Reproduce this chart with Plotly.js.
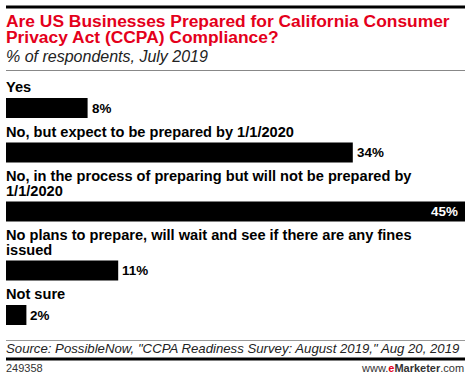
<!DOCTYPE html>
<html>
<head>
<meta charset="utf-8">
<script src="https://cdn.plot.ly/plotly-3.0.1.min.js"></script>
<style>
html,body{margin:0;padding:0;background:#fff;}
#chart{width:471px;height:381px;}
</style>
</head>
<body>
<div id="chart"></div>
<script>
// ---- data ----
var categories = [
  ["Yes"],
  ["No, but expect to be prepared by 1/1/2020"],
  ["No, in the process of preparing but will not be prepared by", "1/1/2020"],
  ["No plans to prepare, will wait and see if there are any fines", "issued"],
  ["Not sure"]
];
var values = [8, 34, 45, 11, 2];
var valueLabels = ["8%", "34%", "45%", "11%", "2%"];

var titleLines = ["Are US Businesses Prepared for California Consumer", "Privacy Act (CCPA) Compliance?"];
var subtitle = "% of respondents, July 2019";
var source = 'Source: PossibleNow, "CCPA Readiness Survey: August 2019," Aug 20, 2019';
var chartId = "249358";

// ---- layout helpers (pixel units on y) ----
var W = 471, H = 381;
var barH = 20, lineH = 14.5, firstCenter = 108, basePitch = 30;
var centers = [];
categories.forEach(function (c, i) {
  centers.push(i === 0 ? firstCenter : centers[i - 1] + basePitch + lineH * c.length);
});
var maxV = Math.max.apply(null, values);

var ann = [];
var F = "Liberation Sans, Arial, sans-serif";
function txt(text, x, y, size, color, opts) {
  var a = {text: text, xref: "paper", yref: "y", x: x, y: y, xanchor: "left", yanchor: "middle",
    showarrow: false, font: {family: F, size: size, color: color}, borderpad: 0};
  for (var k in opts) a[k] = opts[k];
  ann.push(a);
}
txt("<b>" + titleLines[0] + "</b>", 0, 20.5, 17.4, "#e4001b", {xshift: -1});
txt("<b>" + titleLines[1] + "</b>", 0, 36.5, 17.4, "#e4001b", {xshift: -1});
txt("<i>" + subtitle + "</i>", 0, 56.8, 16, "#222", {xshift: -1});

categories.forEach(function (lines, i) {
  var n = lines.length;
  lines.forEach(function (ln, j) {
    var y = centers[i] - barH / 2 - 10.7 - (n - 1 - j) * lineH;
    txt("<b>" + ln + "</b>", 0, y, 14.6, "#000", {xshift: -1});
  });
  var inside = values[i] === maxV;
  ann.push({text: "<b>" + valueLabels[i] + "</b>", xref: "x", yref: "y", x: values[i], y: centers[i],
    xanchor: inside ? "right" : "left", yanchor: "middle", xshift: inside ? -6 : 3,
    showarrow: false, borderpad: 0, font: {family: F, size: 13.4, color: inside ? "#fff" : "#000"}});
});

txt("<i>" + source + "</i>", 0, 348.6, 13.2, "#222", {xshift: -1});
txt(chartId, 0, 368.3, 11, "#333", {xshift: -1});
ann.push({text: "www.<b><span style='color:#e4001b'>e</span>Marketer</b>.com", xref: "paper", yref: "y",
  x: 1, y: 368.3, xanchor: "right", yanchor: "middle", showarrow: false, borderpad: 0,
  font: {family: F, size: 11, color: "#333"}});

var shapes = [
  {type: "rect", xref: "paper", yref: "y", x0: 0, x1: 1, y0: 5.5, y1: 8.5, fillcolor: "#000", line: {width: 0}},
  {type: "line", xref: "paper", yref: "y", x0: 0, x1: 1, y0: 70.5, y1: 70.5, line: {color: "#888", width: 1}},
  {type: "line", xref: "paper", yref: "y", x0: 0, x1: 1, y0: 340.5, y1: 340.5, line: {color: "#999", width: 1}},
  {type: "rect", xref: "paper", yref: "y", x0: 0, x1: 1, y0: 357.5, y1: 360.5, fillcolor: "#000", line: {width: 0}}
];

var trace = {
  type: "bar", orientation: "h", x: values, y: centers, width: barH,
  marker: {color: "#000", line: {width: 0}}, hoverinfo: "skip"
};

var layout = {
  width: W, height: H, margin: {l: 6, r: 6, t: 0, b: 0},
  paper_bgcolor: "#fff", plot_bgcolor: "#fff", showlegend: false,
  xaxis: {range: [0, maxV], visible: false, fixedrange: true},
  yaxis: {range: [H, 0], visible: false, fixedrange: true},
  annotations: ann, shapes: shapes
};
Plotly.newPlot("chart", [trace], layout, {displayModeBar: false, staticPlot: true});
</script>
</body>
</html>
